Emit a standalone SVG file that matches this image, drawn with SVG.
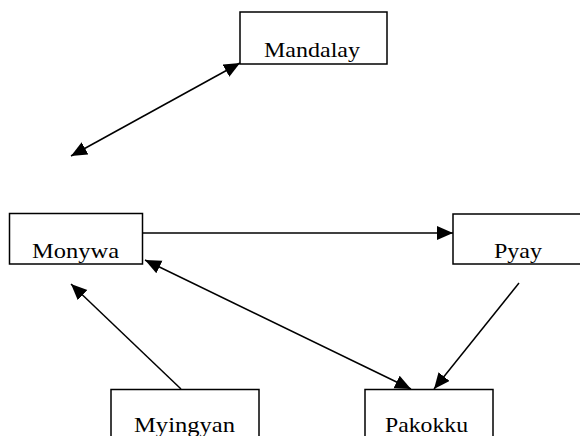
<svg xmlns="http://www.w3.org/2000/svg" width="580" height="436" viewBox="0 0 580 436">
<style>
.box{fill:#fff;stroke:#000;stroke-width:1.5}
.lbl{font-family:"Liberation Serif","Times New Roman",serif;font-size:22px;fill:#000}
.edge{stroke:#000;stroke-width:1.5;fill:none}
</style>
<defs>
<marker id="ah" markerUnits="userSpaceOnUse" markerWidth="18" markerHeight="16" refX="16" refY="7" orient="auto-start-reverse">
<path d="M0,0 L16,7 L0,14 z" fill="#000"/>
</marker>
</defs>
<rect width="580" height="436" fill="#fff"/>
<g id="connectors">
<line class="edge" x1="71" y1="156" x2="240" y2="63" marker-start="url(#ah)" marker-end="url(#ah)"/>
<line class="edge" x1="143" y1="233" x2="453" y2="233" marker-end="url(#ah)"/>
<line class="edge" x1="519" y1="283" x2="434" y2="389" marker-end="url(#ah)"/>
<line class="edge" x1="145" y1="260" x2="411" y2="389" marker-start="url(#ah)" marker-end="url(#ah)"/>
<line class="edge" x1="181" y1="389" x2="71" y2="284" marker-end="url(#ah)"/>
</g>
<g id="mandalay">
<rect class="box" x="240" y="12" width="147" height="52"/>
<text class="lbl" x="264" y="57" textLength="96" lengthAdjust="spacingAndGlyphs">Mandalay</text>
</g>
<g id="monywa">
<rect class="box" x="9.5" y="213.5" width="133" height="50.5"/>
<text class="lbl" x="32" y="258" textLength="87" lengthAdjust="spacingAndGlyphs">Monywa</text>
</g>
<g id="pyay">
<rect class="box" x="453" y="214" width="140" height="50"/>
<text class="lbl" x="494" y="258" textLength="48" lengthAdjust="spacingAndGlyphs">Pyay</text>
</g>
<g id="myingyan">
<rect class="box" x="111" y="389.5" width="148" height="60"/>
<text class="lbl" x="134" y="432" textLength="101" lengthAdjust="spacingAndGlyphs">Myingyan</text>
</g>
<g id="pakokku">
<rect class="box" x="365" y="389.5" width="128" height="60"/>
<text class="lbl" x="385" y="432" textLength="83" lengthAdjust="spacingAndGlyphs">Pakokku</text>
</g>
</svg>
